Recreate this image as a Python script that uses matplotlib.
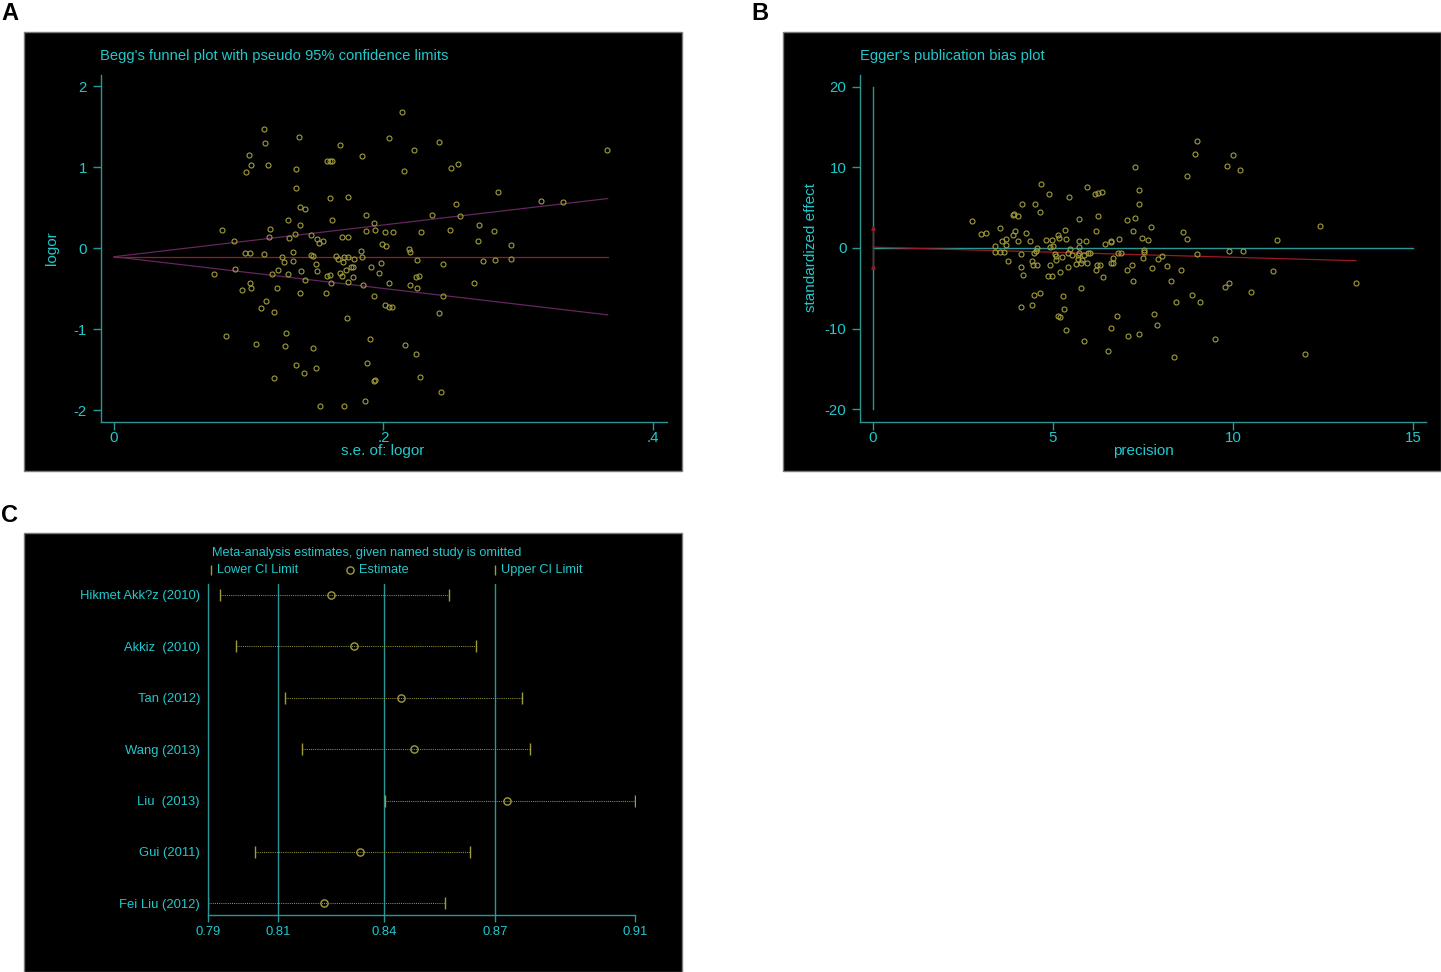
"""Publication bias figure: Begg's funnel plot, Egger's plot and leave-one-out sensitivity."""

import matplotlib
matplotlib.use("Agg")
import matplotlib.pyplot as plt
from matplotlib.lines import Line2D
from matplotlib.patches import Rectangle

plt.rcParams["font.family"] = ["Liberation Sans", "DejaVu Sans"]
plt.rcParams["axes.unicode_minus"] = False

# ---- Panel A: Begg's funnel (standard error of logor, logor) ----
begg_se = [
    0.111, 0.112, 0.137, 0.100, 0.102, 0.114, 0.098, 0.135, 0.168, 0.158,
    0.160, 0.162, 0.135, 0.160, 0.174, 0.138, 0.142, 0.129, 0.162, 0.080,
    0.116, 0.138, 0.089, 0.115, 0.130, 0.134, 0.146, 0.151, 0.152, 0.155,
    0.169, 0.174, 0.097, 0.101, 0.111, 0.133, 0.146, 0.148, 0.125, 0.126,
    0.133, 0.165, 0.166, 0.171, 0.174, 0.170, 0.176, 0.172, 0.168, 0.150,
    0.151, 0.139, 0.122, 0.129, 0.117, 0.074, 0.090, 0.142, 0.158, 0.160,
    0.161, 0.169, 0.174, 0.101, 0.102, 0.095, 0.121, 0.138, 0.157, 0.113,
    0.109, 0.119, 0.173, 0.083, 0.128, 0.105, 0.127, 0.148, 0.135, 0.141,
    0.150, 0.119, 0.153, 0.171, 0.214, 0.204, 0.241, 0.223, 0.184, 0.215,
    0.250, 0.255, 0.366, 0.285, 0.317, 0.333, 0.254, 0.187, 0.236, 0.257,
    0.193, 0.187, 0.194, 0.201, 0.207, 0.228, 0.249, 0.271, 0.282, 0.270,
    0.295, 0.199, 0.202, 0.219, 0.183, 0.220, 0.178, 0.184, 0.225, 0.244,
    0.274, 0.283, 0.295, 0.198, 0.177, 0.191, 0.197, 0.224, 0.226, 0.177,
    0.204, 0.220, 0.225, 0.185, 0.267, 0.193, 0.244, 0.201, 0.204, 0.206,
    0.241, 0.190, 0.216, 0.224, 0.188, 0.193, 0.194, 0.227, 0.243, 0.186,
]
begg_logor = [
    1.465, 1.300, 1.374, 1.152, 1.020, 1.020, 0.938, 0.975, 1.270, 1.070,
    1.080, 1.075, 0.737, 0.620, 0.630, 0.506, 0.485, 0.342, 0.342, 0.218,
    0.234, 0.288, 0.082, 0.132, 0.123, 0.169, 0.157, 0.115, 0.065, 0.082,
    0.132, 0.132, -0.058, -0.058, -0.078, -0.049, -0.090, -0.099, -0.115, -0.177,
    -0.160, -0.099, -0.132, -0.115, -0.115, -0.169, -0.238, -0.272, -0.313, -0.200,
    -0.288, -0.280, -0.275, -0.325, -0.325, -0.325, -0.263, -0.395, -0.342, -0.333,
    -0.432, -0.346, -0.416, -0.436, -0.498, -0.518, -0.490, -0.560, -0.560, -0.650,
    -0.740, -0.794, -0.864, -1.086, -1.045, -1.190, -1.210, -1.235, -1.440, -1.540,
    -1.485, -1.610, -1.947, -1.950, 1.680, 1.354, 1.305, 1.210, 1.140, 0.947,
    0.988, 1.040, 1.206, 0.695, 0.576, 0.568, 0.543, 0.411, 0.411, 0.391,
    0.309, 0.206, 0.222, 0.198, 0.198, 0.201, 0.226, 0.280, 0.210, 0.086,
    0.041, 0.049, 0.028, -0.009, -0.033, -0.045, -0.132, -0.110, -0.152, -0.193,
    -0.160, -0.148, -0.140, -0.181, -0.238, -0.238, -0.305, -0.354, -0.350, -0.354,
    -0.428, -0.460, -0.498, -0.457, -0.432, -0.593, -0.593, -0.700, -0.732, -0.732,
    -0.806, -1.127, -1.200, -1.309, -1.424, -1.638, -1.634, -1.597, -1.778, -1.889,
]
begg_pooled = -0.107
begg_se_max = 0.3664

# ---- Panel B: Egger's plot (precision, standardized effect) ----
egger_precision = [
    4.68, 4.90, 5.94, 6.17, 6.25, 6.35, 5.45, 4.15, 4.49, 4.65,
    3.90, 3.93, 4.02, 6.26, 5.73, 2.74, 3.52, 3.01, 3.15, 3.94,
    4.24, 3.89, 6.19, 5.34, 5.15, 5.16, 5.37, 3.70, 3.57, 3.70,
    4.02, 4.37, 4.81, 4.96, 3.39, 5.00, 4.91, 5.72, 5.91, 5.72,
    6.45, 6.60, 4.56, 5.46, 3.39, 3.54, 3.65, 3.74, 4.10, 4.46,
    4.54, 5.05, 5.07, 5.09, 5.26, 5.43, 5.54, 5.68, 5.72, 5.85,
    5.97, 6.04, 5.69, 5.77, 5.94, 5.81, 5.65, 4.11, 4.16, 4.43,
    4.44, 4.56, 4.93, 5.19, 5.43, 4.86, 4.96, 6.22, 6.31, 6.20,
    6.38, 6.62, 5.77, 4.47, 4.63, 5.27, 4.12, 4.42, 5.31, 5.14,
    5.19, 5.37, 5.85, 6.54, 6.62, 9.01, 8.95, 9.99, 9.83, 10.19,
    7.29, 8.73, 7.39, 7.40, 7.06, 7.27, 7.23, 7.72, 6.83, 6.61,
    7.46, 7.65, 8.61, 8.71, 11.23, 12.41, 7.53, 9.90, 10.29, 6.80,
    6.89, 7.54, 6.66, 6.66, 7.51, 7.91, 8.02, 9.01, 7.20, 7.06,
    7.76, 8.16, 8.56, 7.23, 8.27, 11.10, 13.42, 9.79, 9.90, 10.50,
    8.87, 8.42, 9.09, 6.78, 7.81, 7.90, 7.08, 7.38, 9.50, 8.37,
    12.00,
]
egger_effect = [
    7.89, 6.69, 7.60, 6.73, 6.81, 6.90, 6.28, 5.45, 5.49, 4.46,
    4.13, 4.17, 4.00, 3.97, 3.59, 3.30, 2.48, 1.77, 1.86, 2.15,
    1.82, 1.57, 2.10, 2.23, 1.61, 1.28, 1.12, 1.08, 0.83, 0.41,
    0.87, 0.87, 0.99, 0.95, 0.25, 0.29, 0.12, 0.83, 0.83, 0.12,
    0.53, 0.74, 0.00, -0.17, -0.50, -0.50, -0.53, -1.61, -0.74, -0.66,
    -0.37, -0.74, -0.99, -1.49, -1.15, -0.62, -0.83, -0.83, -0.58, -0.83,
    -0.62, -0.66, -1.40, -1.90, -1.90, -1.49, -2.02, -2.39, -3.30, -1.57,
    -2.15, -2.15, -2.15, -3.02, -2.39, -3.51, -3.51, -2.11, -2.15, -2.73,
    -3.59, -1.90, -5.00, -5.82, -5.53, -5.90, -7.35, -7.02, -7.56, -8.43,
    -8.55, -10.16, -11.48, -12.76, -9.91, 13.22, 11.69, 11.52, 10.12, 9.63,
    10.04, 8.96, 7.23, 5.49, 3.43, 3.68, 2.10, 2.64, 1.08, 0.83,
    1.28, 0.95, 2.02, 1.15, 0.95, 2.69, -0.29, -0.37, -0.41, -0.58,
    -0.58, -0.46, -1.28, -1.90, -1.20, -1.40, -0.95, -0.74, -2.07, -2.77,
    -2.52, -2.23, -2.77, -4.09, -4.09, -2.89, -4.34, -4.87, -4.34, -5.45,
    -5.78, -6.69, -6.73, -8.39, -8.22, -9.58, -10.94, -10.70, -11.32, -13.55,
    -13.10,
]
egger_intercept = 0.1
egger_slope = -0.125
egger_ci = [-2.3, 2.5]

# ---- Panel C: leave-one-out estimates ----
studies = ["Hikmet Akk?z (2010)", "Akkiz  (2010)", "Tan (2012)", "Wang (2013)",
           "Liu  (2013)", "Gui (2011)", "Fei Liu (2012)"]
loo_lower = [0.7932, 0.7978, 0.8116, 0.8166, 0.8399, 0.8031, 0.7900]
loo_estimate = [0.8248, 0.8313, 0.8445, 0.8481, 0.8745, 0.8330, 0.8227]
loo_upper = [0.8581, 0.8658, 0.8786, 0.8811, 0.9106, 0.8641, 0.8570]
pooled_lines = [0.8098, 0.8398, 0.8710]
loo_ticks = [0.7900, 0.8098, 0.8398, 0.8710, 0.9106]
loo_tick_labels = ["0.79", "0.81", "0.84", "0.87", "0.91"]

TEXT = "#22c8cc"
AXIS = "#2a9696"
OLIVE = "#a09c3c"
PURPLE = "#652660"
RED = "#991a26"

W, H = 1441, 972
fig = plt.figure(figsize=(W / 100, H / 100), dpi=100)


def px_box(x0, y0, x1, y1):
    return [x0 / W, 1 - y1 / H, (x1 - x0) / W, (y1 - y0) / H]


def ftext(x, y, s, **kw):
    kw.setdefault("color", TEXT)
    kw.setdefault("fontsize", 10.6)
    kw.setdefault("va", "center")
    fig.text(x / W, 1 - y / H, s, **kw)


def panel_background(x0, y0, x1, y1):
    l, b, w, h = px_box(x0, y0, x1, y1)
    fig.patches.append(Rectangle((l, b), w, h, transform=fig.transFigure,
                                 facecolor="black", edgecolor="#7a7a7a",
                                 linewidth=1, zorder=-10))


def style_axes(ax, size=10.8):
    ax.set_facecolor("none")
    for side in ("top", "right"):
        ax.spines[side].set_visible(False)
    for side in ("left", "bottom"):
        ax.spines[side].set_color(AXIS)
        ax.spines[side].set_linewidth(1.0)
    ax.tick_params(colors=AXIS, labelcolor=TEXT, labelsize=size,
                   length=6, width=1)


panel_background(24, 32, 682, 471)
panel_background(783, 32, 1441, 471)
panel_background(24, 533, 682, 972)

ftext(1, 14, "A", color="black", fontsize=17, fontweight="bold")
ftext(751, 14, "B", color="black", fontsize=17, fontweight="bold")
ftext(1, 515, "C", color="black", fontsize=17, fontweight="bold")

# ---- A ----
ax_a = fig.add_axes(px_box(100.7, 74.7, 666.7, 421.7))
style_axes(ax_a)
ax_a.set_xlim(-0.0099, 0.4102)
ax_a.set_ylim(-2.144, 2.14)
ax_a.set_xticks([0, 0.2, 0.4], ["0", ".2", ".4"])
ax_a.set_yticks([-2, -1, 0, 1, 2])
ax_a.tick_params(axis="y", pad=4)
ax_a.tick_params(axis="x", pad=1)
ax_a.plot([0, begg_se_max], [begg_pooled, begg_pooled + 1.96 * begg_se_max],
          color=PURPLE, lw=0.9)
ax_a.plot([0, begg_se_max], [begg_pooled, begg_pooled - 1.96 * begg_se_max],
          color=PURPLE, lw=0.9)
ax_a.plot([0, begg_se_max], [begg_pooled, begg_pooled], color=RED, lw=0.9)
ax_a.plot(begg_se, begg_logor, "o", ms=3.6, mfc="none", mec=OLIVE, mew=0.8)
ftext(100, 56, "Begg's funnel plot with pseudo 95% confidence limits")
ftext(383, 451, "s.e. of: logor", ha="center", fontsize=11)
ftext(52, 248, "logor", ha="center", rotation=90, fontsize=11)

# ---- B ----
ax_b = fig.add_axes(px_box(860.3, 74.7, 1426, 421.7))
style_axes(ax_b)
ax_b.set_xlim(-0.353, 15.36)
ax_b.set_ylim(-21.52, 21.47)
ax_b.set_xticks([0, 5, 10, 15])
ax_b.set_yticks([-20, -10, 0, 10, 20])
ax_b.tick_params(axis="y", pad=4)
ax_b.tick_params(axis="x", pad=1)
ax_b.plot([0, 0], [-20, 20], color=AXIS, lw=1)
ax_b.plot([0, 15], [0, 0], color=AXIS, lw=1)
ax_b.plot([0, 0], egger_ci, color=RED, lw=1, marker="^", ms=2.5)
x_end = max(egger_precision)
ax_b.plot([0, x_end], [egger_intercept, egger_intercept + egger_slope * x_end],
          color=RED, lw=0.9)
ax_b.plot(egger_precision, egger_effect, "o", ms=3.6, mfc="none", mec=OLIVE, mew=0.8)
ftext(860, 56, "Egger's publication bias plot")
ftext(1143, 451, "precision", ha="center", fontsize=11)
ftext(811, 248, "standardized effect", ha="center", rotation=90, fontsize=11)

# ---- C ----
ax_c = fig.add_axes(px_box(208.3, 584, 634.7, 914.7))
style_axes(ax_c, size=9.4)
ax_c.set_xlim(loo_ticks[0], loo_ticks[-1])
ax_c.set_ylim(7.22, 0.79)
rows = list(range(1, len(studies) + 1))
ax_c.set_yticks(rows, studies)
ax_c.set_xticks(loo_ticks, loo_tick_labels)
ax_c.tick_params(axis="y", length=0, pad=6)
ax_c.tick_params(axis="x", length=5, pad=3)
for xv in pooled_lines:
    ax_c.axvline(xv, color=AXIS, lw=1)
ax_c.hlines(rows, loo_lower, loo_upper, colors=OLIVE, lw=0.7,
            linestyles=(0, (1, 1.2)))
ax_c.plot(loo_lower, rows, "|", ms=8, mew=1, color=OLIVE)
ax_c.plot(loo_upper, rows, "|", ms=8, mew=1, color=OLIVE)
ax_c.plot(loo_estimate, rows, "o", ms=5.2, mfc="none", mec=OLIVE, mew=1)

ftext(211.5, 553, "Meta-analysis estimates, given named study is omitted", fontsize=9.2)
for xp, sym in [(211, "|"), (350, "o"), (494.5, "|")]:
    fig.add_artist(Line2D([xp / W], [1 - 570 / H], transform=fig.transFigure,
                          marker=sym, ms=7 if sym == "|" else 5.2, mew=1,
                          mfc="none", color=OLIVE, linestyle="none"))
ftext(217, 570, "Lower CI Limit", fontsize=9.2)
ftext(358.5, 570, "Estimate", fontsize=9.2)
ftext(501.5, 570, "Upper CI Limit", fontsize=9.2)

fig.savefig("out.png", dpi=100, facecolor="white")
